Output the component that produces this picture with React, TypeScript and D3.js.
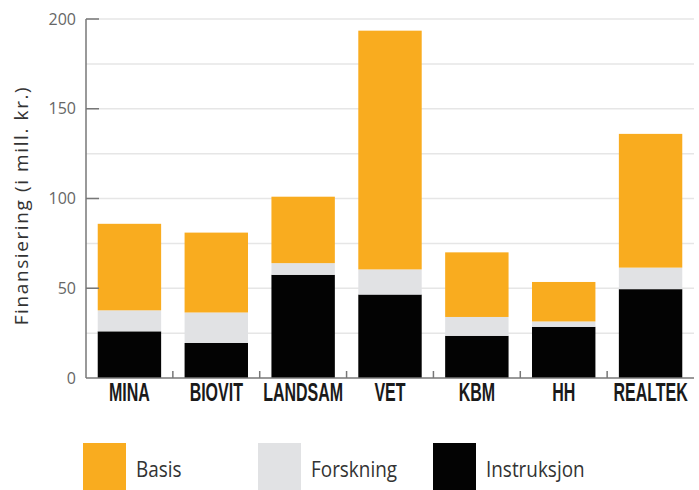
import React from 'react';
import * as d3 from 'd3';

const categories = ['MINA', 'BIOVIT', 'LANDSAM', 'VET', 'KBM', 'HH', 'REALTEK'];
const instruksjon = [26, 19.5, 57.5, 46.5, 23.5, 28.5, 49.5];
const forskning = [11.7, 17, 6.5, 14, 10.5, 3, 12];
const basis = [48.2, 44.5, 37, 133, 36, 22, 74.5];
const seriesKeys = ['Instruksjon', 'Forskning', 'Basis'];
const legendOrder = ['Basis', 'Forskning', 'Instruksjon'];
const yTicks = [0, 50, 100, 150, 200];
const gridValues = [25, 75, 125, 175];

const colors: Record<string, string> = {
  Basis: '#F9AC1F',
  Forskning: '#E1E2E4',
  Instruksjon: '#030303',
};

const W = 699;
const H = 490;
const margin = { top: 19, right: 5, bottom: 112, left: 86 };

const App: React.FC = () => {
  const rows = categories.map((c, i) => ({
    cat: c,
    Instruksjon: instruksjon[i],
    Forskning: forskning[i],
    Basis: basis[i],
  }));
  const stack = d3.stack<any>().keys(seriesKeys)(rows);

  const x = d3
    .scaleBand()
    .domain(categories)
    .range([margin.left, W - margin.right])
    .paddingInner(0.27)
    .paddingOuter(0.135);
  const y = d3
    .scaleLinear()
    .domain([0, 200])
    .range([H - margin.bottom, margin.top]);

  const step = x.step();
  const boundaries = categories.slice(1).map(c => (x(c) as number) - (step - x.bandwidth()) / 2);

  const legendX = d3.scalePoint().domain(legendOrder).range([83, 433]);

  return (
    <svg width={W} height={H} style={{ position: 'absolute', left: 0, top: 0, background: '#fff' }}>
      {/* grid */}
      {[...gridValues, ...yTicks.slice(1)].map(v => (
        <line key={'g' + v} x1={margin.left} x2={W - margin.right} y1={y(v)} y2={y(v)} stroke="#e6e6e6" strokeWidth={1.5} />
      ))}
      {/* bars */}
      {stack.map(s => (
        <g key={s.key} fill={colors[s.key]}>
          {s.map((d, i) => (
            <rect
              key={i}
              x={x(categories[i])}
              width={x.bandwidth()}
              y={y(d[1])}
              height={y(d[0]) - y(d[1])}
            />
          ))}
        </g>
      ))}
      {/* axes */}
      <line x1={margin.left} x2={margin.left} y1={y(200)} y2={y(0)} stroke="#777" strokeWidth={1.5} />
      <line x1={margin.left} x2={W - margin.right} y1={y(0)} y2={y(0)} stroke="#777" strokeWidth={1.5} />
      {yTicks.slice(1).map(v => (
        <line key={'t' + v} x1={margin.left} x2={margin.left + 13} y1={y(v)} y2={y(v)} stroke="#777" strokeWidth={1.5} />
      ))}
      {boundaries.map((b, i) => (
        <line key={'b' + i} x1={b} x2={b} y1={y(0) - 7} y2={y(0)} stroke="#777" strokeWidth={1.5} />
      ))}
      {yTicks.map(v => (
        <text
          key={'l' + v}
          x={margin.left - 10}
          y={y(v)}
          dy="0.35em"
          textAnchor="end"
          fontFamily="'Open Sans', sans-serif"
          fontSize={16}
          fill="#666"
        >
          {v}
        </text>
      ))}
      {categories.map(c => (
        <text
          key={c}
          transform={`translate(${(x(c) as number) + x.bandwidth() / 2},${y(0) + 23}) scale(0.64,1)`}
          textAnchor="middle"
          fontFamily="'Liberation Sans Narrow', 'Liberation Sans', sans-serif"
          fontWeight="bold"
          fontSize={25}
          fill="#1a1a1a"
        >
          {c}
        </text>
      ))}
      <text
        transform={`translate(28,${(y(0) + y(200)) / 2 + 7}) rotate(-90)`}
        textAnchor="middle"
        fontFamily="'Open Sans', sans-serif"
        fontSize={19}
        letterSpacing={1.6}
        fill="#333"
      >
        Finansiering (i mill. kr.)
      </text>
      {/* legend */}
      {legendOrder.map(k => (
        <g key={k} transform={`translate(${legendX(k)},443)`}>
          <rect width={43} height={47} fill={colors[k]} />
          <text
            transform="translate(53,34) scale(0.86,1)"
            fontFamily="'Open Sans', sans-serif"
            fontSize={22}
            fill="#333"
          >
            {k}
          </text>
        </g>
      ))}
    </svg>
  );
};

export default App;
